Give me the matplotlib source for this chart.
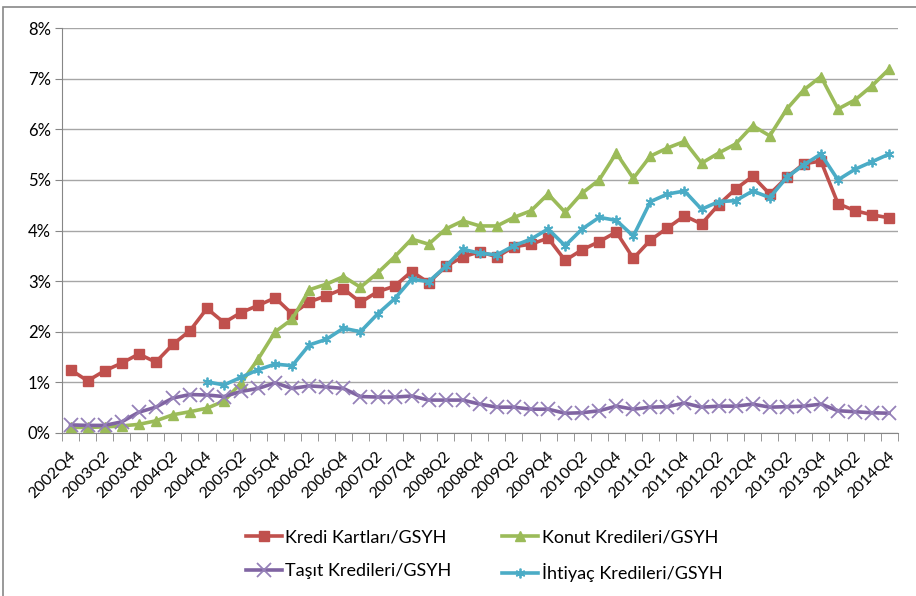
import matplotlib
matplotlib.use("Agg")
import matplotlib.pyplot as plt
from matplotlib.patches import Rectangle
from matplotlib.ticker import FixedLocator, PercentFormatter
from matplotlib.transforms import ScaledTranslation

plt.rcParams['font.family'] = ['Lato', 'DejaVu Sans']

# quarters 2002Q4 .. 2014Q4
quarters = []
for y in range(2002, 2015):
    for q in range(1, 5):
        if (y, q) >= (2002, 4):
            quarters.append("%dQ%d" % (y, q))

kredi = [1.25, 1.03, 1.23, 1.38, 1.56, 1.40, 1.75, 2.02, 2.46, 2.18,
         2.38, 2.52, 2.67, 2.35, 2.59, 2.71, 2.85, 2.58, 2.79, 2.90,
         3.19, 2.97, 3.29, 3.48, 3.58, 3.48, 3.68, 3.73, 3.85, 3.41,
         3.62, 3.78, 3.97, 3.45, 3.81, 4.05, 4.29, 4.13, 4.51, 4.82,
         5.07, 4.72, 5.05, 5.32, 5.37, 4.53, 4.39, 4.31, 4.25]
konut = [0.11, 0.11, 0.12, 0.14, 0.17, 0.24, 0.36, 0.42, 0.49, 0.63,
         0.99, 1.46, 2.00, 2.25, 2.83, 2.94, 3.09, 2.88, 3.16, 3.48,
         3.83, 3.73, 4.03, 4.19, 4.09, 4.09, 4.26, 4.39, 4.72, 4.36,
         4.74, 5.00, 5.53, 5.03, 5.47, 5.63, 5.76, 5.33, 5.53, 5.71,
         6.07, 5.87, 6.40, 6.78, 7.04, 6.40, 6.58, 6.86, 7.19]
tasit = [0.16, 0.15, 0.15, 0.22, 0.41, 0.51, 0.69, 0.76, 0.75, 0.72,
         0.82, 0.88, 0.99, 0.88, 0.93, 0.91, 0.88, 0.72, 0.71, 0.71,
         0.73, 0.65, 0.65, 0.65, 0.57, 0.51, 0.51, 0.47, 0.47, 0.39,
         0.40, 0.44, 0.53, 0.47, 0.51, 0.52, 0.59, 0.51, 0.53, 0.53,
         0.57, 0.51, 0.52, 0.53, 0.57, 0.44, 0.42, 0.40, 0.39]
# starts in 2004Q4
ihtiyac = [None] * 8 + [
         1.01, 0.95, 1.10, 1.25, 1.36, 1.33, 1.74, 1.85, 2.07, 2.00,
         2.35, 2.65, 3.04, 2.99, 3.29, 3.63, 3.55, 3.52, 3.70, 3.83,
         4.03, 3.70, 4.03, 4.26, 4.20, 3.89, 4.57, 4.72, 4.78, 4.42,
         4.57, 4.59, 4.78, 4.65, 5.05, 5.30, 5.51, 5.00, 5.21, 5.36,
         5.51]

fig = plt.figure(figsize=(9.16, 5.96), dpi=100)
# chart area border (only top/left visible)
fig.patches.append(Rectangle((0.003, -0.05), 1.1, 1.038, transform=fig.transFigure,
                             fill=False, edgecolor='#888888', linewidth=1.2))
ax = fig.add_axes([0.0677, 0.2735, 0.9123, 0.6795])

x = list(range(len(quarters)))
l1, = ax.plot(x, kredi, color='#C0504D', lw=2.6, marker='s', ms=7.5, label='Kredi Kartları/GSYH', zorder=3)
l2, = ax.plot(x, konut, color='#9BBB59', lw=2.6, marker='^', ms=7.5, label='Konut Kredileri/GSYH', zorder=3)
l3, = ax.plot(x, tasit, color='#8064A2', lw=2.6, marker='x', ms=10, mew=1.3, mec='#9580B8',
              label='Taşıt Kredileri/GSYH', zorder=4)
xi = [i for i in x if ihtiyac[i] is not None]
yi = [ihtiyac[i] for i in xi]
l4, = ax.plot(xi, yi, color='#4BACC6', lw=2.6, marker=(6, 2, 0), ms=7, mew=1.3,
              label='İhtiyaç Kredileri/GSYH', zorder=5)

ax.set_xlim(-0.5, len(quarters) - 0.5)
ax.set_ylim(0, 8)
ax.yaxis.set_major_formatter(PercentFormatter(decimals=0))
ax.set_yticks(range(0, 9))
ax.yaxis.grid(True, color='#a6a6a6', lw=1)
ax.set_axisbelow(True)

ax.set_xticks(x[::2])
ax.set_xticklabels(quarters[::2], rotation=45, ha='right', va='center', rotation_mode='anchor')
ax.tick_params(axis='x', length=0, pad=15, labelsize=11.5)
off = ScaledTranslation(3 / 100, 0, fig.dpi_scale_trans)
for lab in ax.get_xticklabels():
    lab.set_transform(lab.get_transform() + off)
ax.xaxis.set_minor_locator(FixedLocator([i - 0.5 for i in range(len(quarters) + 1)]))
ax.tick_params(axis='x', which='minor', length=6, color='#868686')
ax.tick_params(axis='y', length=5, color='#868686', labelsize=12, pad=3)

for s in ['top', 'right']:
    ax.spines[s].set_visible(False)
for s in ['left', 'bottom']:
    ax.spines[s].set_color('#868686')

ax.legend([l1, l3, l2, l4], [l.get_label() for l in [l1, l3, l2, l4]],
          loc='upper center', bbox_to_anchor=(0.505, -0.198), ncol=2, frameon=False,
          fontsize=13, handlelength=2.0, columnspacing=2.8, labelspacing=1.0,
          handletextpad=0.2)

fig.savefig('out.png', dpi=100)
